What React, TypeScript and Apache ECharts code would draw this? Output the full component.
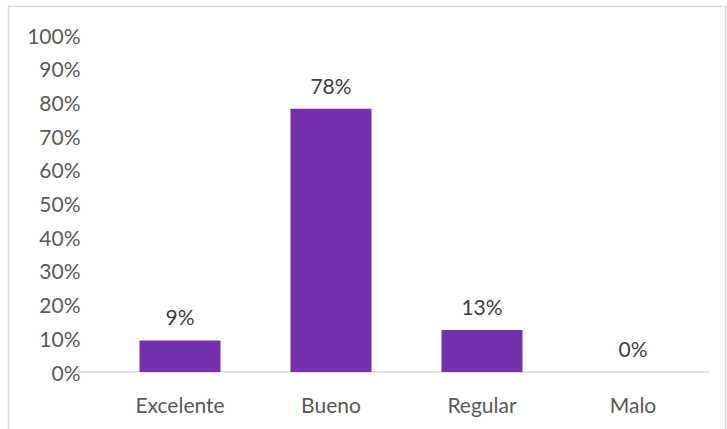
import React, { useEffect, useRef } from "react";
import * as echarts from "echarts";

const categories = ["Excelente", "Bueno", "Regular", "Malo"];
const values = [9.375, 78.125, 12.5, 0];
const yTicks = [0, 10, 20, 30, 40, 50, 60, 70, 80, 90, 100];

const FONT = "Lato, 'Open Sans', sans-serif";
const TEXT = "#595959";

export default function App() {
  const ref = useRef<HTMLDivElement>(null);
  useEffect(() => {
    if (!ref.current) return;
    const chart = echarts.init(ref.current, undefined, { renderer: "svg" });
    chart.setOption({
      animation: false,
      backgroundColor: "#ffffff",
      grid: { left: 104.5, right: 18.5, top: 35, bottom: 57 },
      xAxis: {
        type: "category",
        data: categories,
        axisLine: { lineStyle: { color: "#d9d9d9", width: 1.5 } },
        axisTick: { show: false },
        axisLabel: { color: TEXT, fontFamily: FONT, fontSize: 21, margin: 22 },
      },
      yAxis: {
        type: "value",
        min: yTicks[0],
        max: yTicks[yTicks.length - 1],
        interval: 10,
        splitLine: { show: false },
        axisLine: { show: false },
        axisTick: { show: false },
        axisLabel: {
          color: TEXT,
          fontFamily: FONT,
          fontSize: 21,
          margin: 24,
          formatter: (v: number) => `${v}%`,
        },
      },
      series: [
        {
          type: "bar",
          data: values,
          barWidth: 81,
          itemStyle: { color: "#7530ad" },
          label: {
            show: true,
            position: "top",
            distance: 13,
            color: "#404040",
            fontFamily: FONT,
            fontSize: 21,
            formatter: (p: any) => `${Math.round(p.value)}%`,
          },
        },
      ],
      graphic: [
        {
          type: "rect",
          shape: { x: 8.5, y: 6.5, width: 717, height: 440 },
          style: { fill: "none", stroke: "#d9d9d9", lineWidth: 1.5 },
          silent: true,
        },
        {
          type: "line",
          shape: { x1: 74, y1: 372, x2: 105, y2: 372 },
          style: { stroke: "#d9d9d9", lineWidth: 1.5 },
          silent: true,
        },
      ],
    });
    return () => chart.dispose();
  }, []);
  return (
    <div style={{ position: "fixed", left: 0, top: 0, width: 727, height: 429 }}>
      <div ref={ref} style={{ width: 727, height: 429 }} />
    </div>
  );
}
